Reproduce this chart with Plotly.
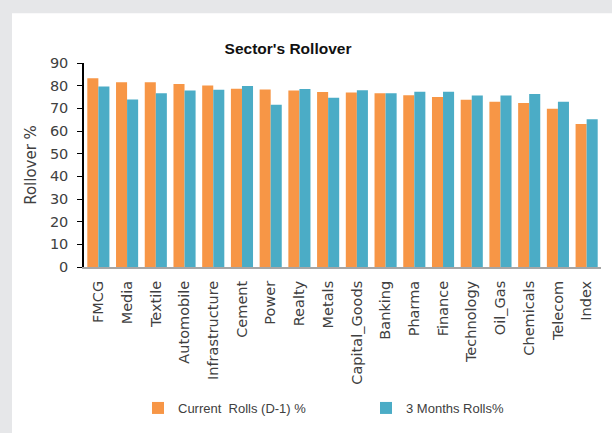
import plotly.graph_objects as go

categories = ["FMCG", "Media", "Textile", "Automobile", "Infrastructure", "Cement", "Power",
              "Realty", "Metals", "Capital_Goods", "Banking", "Pharma", "Finance", "Technology",
              "Oil_Gas", "Chemicals", "Telecom", "Index"]
current_rolls = [83.3, 81.5, 81.5, 80.7, 80.1, 78.6, 78.3, 77.9, 77.2, 77.0, 76.7, 75.8, 75.0,
                 73.8, 72.9, 72.3, 69.8, 63.1]
three_month_rolls = [79.6, 73.9, 76.7, 77.9, 78.2, 79.9, 71.6, 78.5, 74.7, 78.0, 76.6, 77.3,
                     77.3, 75.7, 75.7, 76.3, 72.9, 65.2]
y_ticks = [0, 10, 20, 30, 40, 50, 60, 70, 80, 90]

W, H = 612, 433
L, R, T, B = 84, 11, 63, 165
pw, ph = W - L - R, H - T - B

def px_to_paper_x(px):
    return (px - L) / pw

def px_to_paper_y(py):
    return (H - B - py) / ph

FONT = "Liberation Sans, Arial, sans-serif"
TICKFONT = "DejaVu Sans, Liberation Sans, sans-serif"

fig = go.Figure()
fig.add_trace(go.Bar(x=categories, y=current_rolls, name="Current  Rolls (D-1) %",
                     marker=dict(color="#F79646", line=dict(width=0))))
fig.add_trace(go.Bar(x=categories, y=three_month_rolls, name="3 Months Rolls%",
                     marker=dict(color="#4BACC6", line=dict(width=0))))

fig.add_shape(type="rect", xref="paper", yref="paper", layer="below",
              x0=px_to_paper_x(12), x1=px_to_paper_x(640),
              y0=px_to_paper_y(460), y1=px_to_paper_y(13),
              fillcolor="white", line=dict(width=0))

fig.update_layout(
    width=W, height=H,
    margin=dict(l=L, r=R, t=T, b=B),
    paper_bgcolor="#e6e7e9",
    plot_bgcolor="rgba(0,0,0,0)",
    barmode="group", bargap=0.23, bargroupgap=0,
    title=dict(text="<b>Sector's Rollover</b>", x=288 / W, xanchor="center",
               y=1 - 49 / H, yanchor="middle",
               font=dict(family=FONT, size=15.5, color="#111111")),
    font=dict(family=FONT, color="#404040"),
    showlegend=True,
    legend=dict(orientation="h", x=px_to_paper_x(138), xanchor="left",
                y=px_to_paper_y(408), yanchor="middle",
                entrywidth=183, entrywidthmode="pixels",
                font=dict(size=13, color="#404040"),
                bgcolor="rgba(0,0,0,0)", traceorder="normal"),
    xaxis=dict(showline=True, linecolor="#a6a6a6", linewidth=2,
               tickangle=-90, tickfont=dict(family=TICKFONT, size=14.5, color="#404040"),
               ticks="", showgrid=False, zeroline=False, ticklabelstandoff=6),
    yaxis=dict(range=[0, 90], tickvals=y_ticks, showline=True, linecolor="#000000",
               linewidth=1.5, ticks="outside", ticklen=5, tickcolor="#000000",
               tickfont=dict(family=TICKFONT, size=14.5, color="#404040"),
               showgrid=False, zeroline=False, ticklabelstandoff=6,
               title=dict(text="Rollover %", font=dict(family=TICKFONT, size=15, color="#404040"),
                          standoff=10)),
)

fig.write_html("out.html", config={"displayModeBar": False},
               post_script="document.body.style.margin='0px';")
